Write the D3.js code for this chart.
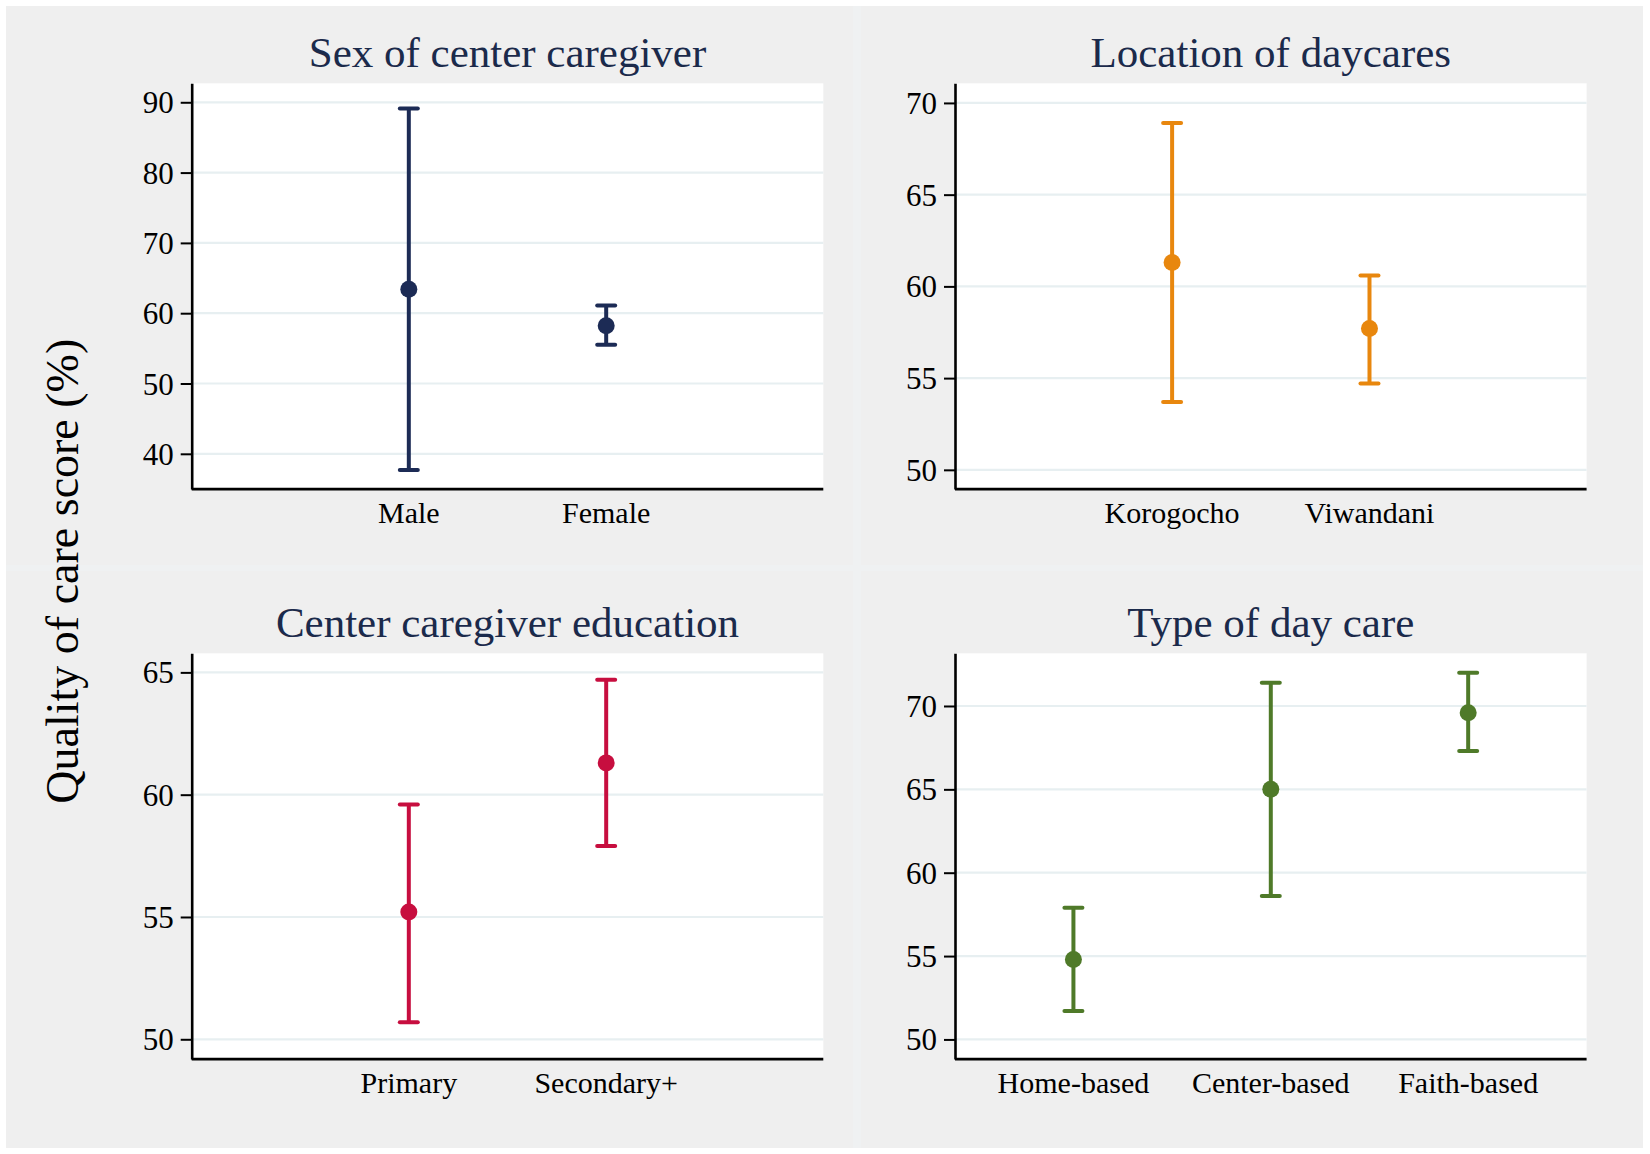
<!DOCTYPE html>
<html>
<head>
<meta charset="utf-8">
<script src="https://cdn.jsdelivr.net/npm/d3@7"></script>
<style>
  html, body { margin: 0; padding: 0; background: #ffffff; }
  svg { display: block; }
  text { font-family: "Liberation Serif", "Times New Roman", "DejaVu Serif", serif; }
</style>
</head>
<body>
<svg id="chart" width="1650" height="1154"></svg>
<script>
// ---- data ----
var panelTitles = ["Sex of center caregiver", "Location of daycares",
                   "Center caregiver education", "Type of day care"];

var sexCats = ["Male", "Female"],
    sexMean = [63.4, 58.2],
    sexLow = [37.7, 55.5],
    sexHigh = [89.1, 61.1],
    sexTicks = [40, 50, 60, 70, 80, 90],
    sexDomain = [34.98, 92.7];

var locCats = ["Korogocho", "Viwandani"],
    locMean = [61.3, 57.7],
    locLow = [53.7, 54.7],
    locHigh = [68.9, 60.6],
    locTicks = [50, 55, 60, 65, 70],
    locDomain = [48.95, 71.07];

var eduCats = ["Primary", "Secondary+"],
    eduMean = [55.2, 61.3],
    eduLow = [50.7, 57.9],
    eduHigh = [59.6, 64.7],
    eduTicks = [50, 55, 60, 65],
    eduDomain = [49.19, 65.78];

var typeCats = ["Home-based", "Center-based", "Faith-based"],
    typeMean = [54.8, 65.0, 69.6],
    typeLow = [51.7, 58.6, 67.3],
    typeHigh = [57.9, 71.4, 72.0],
    typeTicks = [50, 55, 60, 65, 70],
    typeDomain = [48.82, 73.16];

var yTitle = "Quality of care score (%)";

// ---- layout ----
var svg = d3.select("#chart");
var colX = [191.7, 955], rowY = [83.3, 653.3],
    plotW = 631.6, plotH = 405.8;
var colors = ["#1c2b55", "#e8870e", "#c70e3f", "#4f7a29"];
var titleColor = "#1b2a4b";

var panels = [
  {cats: sexCats, mean: sexMean, low: sexLow, high: sexHigh, ticks: sexTicks, domain: sexDomain},
  {cats: locCats, mean: locMean, low: locLow, high: locHigh, ticks: locTicks, domain: locDomain},
  {cats: eduCats, mean: eduMean, low: eduLow, high: eduHigh, ticks: eduTicks, domain: eduDomain},
  {cats: typeCats, mean: typeMean, low: typeLow, high: typeHigh, ticks: typeTicks, domain: typeDomain}
];

// graph region background
svg.append("rect")
  .attr("x", 6).attr("y", 6)
  .attr("width", 1637).attr("height", 1142)
  .attr("fill", "#efefef");

// faint seams between the combined sub-graphs
svg.append("line").attr("x1", 857).attr("x2", 857).attr("y1", 6).attr("y2", 1148)
  .attr("stroke", "#eff1f2").attr("stroke-width", 8);
svg.append("line").attr("x1", 6).attr("x2", 1643).attr("y1", 568).attr("y2", 568)
  .attr("stroke", "#eff1f2").attr("stroke-width", 6);

panels.forEach(function(p, i) {
  var left = colX[i % 2], top = rowY[Math.floor(i / 2)];
  var g = svg.append("g").attr("transform", "translate(" + left + "," + top + ")");

  var n = p.cats.length;
  var x = d3.scalePoint()
    .domain(p.cats)
    .range([0, plotW])
    .padding((3.2 - (n - 1)) / 2);
  var y = d3.scaleLinear().domain(p.domain).range([plotH, 0]);

  // plot region
  g.append("rect").attr("width", plotW).attr("height", plotH).attr("fill", "#ffffff");

  // gridlines
  g.selectAll(".grid").data(p.ticks).enter().append("line")
    .attr("class", "grid")
    .attr("x1", 0).attr("x2", plotW)
    .attr("y1", function(d) { return y(d); })
    .attr("y2", function(d) { return y(d); })
    .attr("stroke", "#e7eff1").attr("stroke-width", 2.2);

  // y axis
  var ya = g.append("g").call(d3.axisLeft(y).tickValues(p.ticks)
    .tickSize(11).tickSizeOuter(0).tickPadding(7));
  ya.select(".domain").attr("stroke", "#000").attr("stroke-width", 2.6);
  ya.selectAll(".tick line").attr("stroke", "#000").attr("stroke-width", 2);
  ya.selectAll(".tick text")
    .attr("font-size", 31)
    .attr("fill", "#000")
    .attr("dy", "0.34em")
    .style("font-family", "'Liberation Serif', 'Times New Roman', serif");

  // x axis line and labels (no ticks)
  g.append("line").attr("x1", 0).attr("x2", plotW)
    .attr("y1", plotH).attr("y2", plotH)
    .attr("stroke", "#000").attr("stroke-width", 2.6);
  g.selectAll(".xlab").data(p.cats).enter().append("text")
    .attr("class", "xlab")
    .attr("x", function(d) { return x(d); })
    .attr("y", plotH + 34)
    .attr("text-anchor", "middle")
    .attr("font-size", 30)
    .attr("fill", "#000")
    .text(function(d) { return d; });

  // title
  g.append("text")
    .attr("x", plotW / 2).attr("y", -16)
    .attr("text-anchor", "middle")
    .attr("font-size", 43)
    .attr("fill", titleColor)
    .text(panelTitles[i]);

  // error bars with means
  var rows = p.cats.map(function(c, k) {
    return {cat: c, mean: p.mean[k], low: p.low[k], high: p.high[k]};
  });
  var bars = g.selectAll(".bar").data(rows).enter().append("g").attr("class", "bar");
  bars.append("line")
    .attr("x1", function(d) { return x(d.cat); })
    .attr("x2", function(d) { return x(d.cat); })
    .attr("y1", function(d) { return y(d.low); })
    .attr("y2", function(d) { return y(d.high); })
    .attr("stroke", colors[i]).attr("stroke-width", 4);
  ["low", "high"].forEach(function(k) {
    bars.append("line")
      .attr("x1", function(d) { return x(d.cat) - 9; })
      .attr("x2", function(d) { return x(d.cat) + 9; })
      .attr("y1", function(d) { return y(d[k]); })
      .attr("y2", function(d) { return y(d[k]); })
      .attr("stroke", colors[i]).attr("stroke-width", 4)
      .attr("stroke-linecap", "round");
  });
  bars.append("circle")
    .attr("cx", function(d) { return x(d.cat); })
    .attr("cy", function(d) { return y(d.mean); })
    .attr("r", 8.5)
    .attr("fill", colors[i]);
});

// shared y title
svg.append("text")
  .attr("transform", "translate(78," + ((rowY[0] + rowY[1] + plotH) / 2) + ") rotate(-90)")
  .attr("text-anchor", "middle")
  .attr("font-size", 46)
  .attr("fill", "#000")
  .text(yTitle);
</script>
</body>
</html>
